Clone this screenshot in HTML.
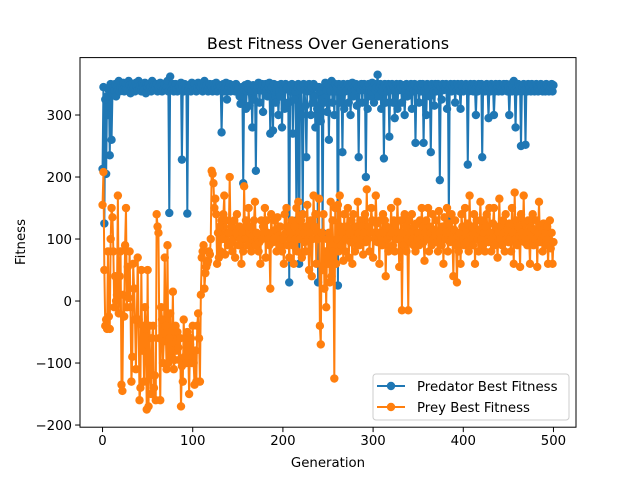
<!DOCTYPE html>
<html><head><meta charset="utf-8"><style>
body{margin:0;background:#fff}
svg{display:block;font-family:"DejaVu Sans","Liberation Sans",sans-serif}
</style></head><body>
<svg id="chart" width="640" height="480" xmlns="http://www.w3.org/2000/svg">
<rect width="640" height="480" fill="#fff"/>
<text x="328" y="49" font-size="16" text-anchor="middle">Best Fitness Over Generations</text>
<g id="plot"></g>
<g id="axes"></g>
<text x="328" y="467" font-size="13.3" text-anchor="middle">Generation</text>
<text transform="translate(25,242) rotate(-90)" font-size="13.3" text-anchor="middle">Fitness</text>
<g>
<rect x="373" y="374" width="196" height="46" rx="3" fill="#fff" fill-opacity="0.8" stroke="#ccc"/>
<g>
<line x1="377" y1="386" x2="405" y2="386" stroke="#1f77b4" stroke-width="2"/><circle cx="391" cy="386" r="4.2" fill="#1f77b4"/>
<text x="417" y="391" font-size="13.3">Predator Best Fitness</text></g>
<g>
<line x1="377" y1="407" x2="405" y2="407" stroke="#ff7f0e" stroke-width="2"/><circle cx="391" cy="407" r="4.2" fill="#ff7f0e"/>
<text x="417" y="412" font-size="13.3">Prey Best Fitness</text></g>
</g>
</svg>
<script>
const predator=[213,345,125,325,205,330,300,340,235,350,
260,335,345,340,350,330,345,340,355,338,345,350,340,352,338,345,350,342,340,355,
348,335,345,350,340,345,338,352,345,340,355,342,348,338,350,345,340,352,335,348,
345,350,340,345,338,355,342,348,340,345,350,338,345,340,352,345,338,348,342,350,
340,345,355,338,142,362,345,340,350,338,345,350,342,338,348,345,340,352,228,345,
338,350,342,345,141,340,348,345,338,352,345,340,350,342,338,345,352,340,348,345,
350,338,345,355,342,348,340,338,345,350,342,345,338,350,340,345,352,338,345,340,
348,345,272,340,350,338,345,352,325,340,345,350,338,345,340,348,342,338,350,345,
340,345,330,318,338,345,190,340,348,310,338,350,342,315,345,340,280,348,325,345,
210,340,345,352,320,345,340,350,305,338,345,350,340,330,345,352,270,340,345,275,
350,338,320,340,348,300,338,330,350,280,340,345,310,350,342,345,320,30,338,345,
350,270,340,325,338,130,345,350,60,340,345,300,140,350,340,315,232,338,345,350,
340,300,345,320,350,330,280,345,310,30,345,338,290,340,110,345,320,352,340,305,
350,260,345,338,355,320,345,300,350,338,345,25,350,320,338,345,240,350,310,338,
345,340,350,320,345,300,340,352,330,345,340,350,315,345,232,345,340,350,320,345,
350,340,200,345,310,350,340,330,338,352,345,320,350,340,345,365,330,345,350,310,
338,345,230,350,320,345,338,350,265,345,340,350,320,345,295,340,350,310,345,340,
350,345,320,340,348,300,338,350,330,345,338,345,350,310,345,338,350,255,340,345,
345,320,350,338,345,350,255,340,345,300,350,345,338,330,240,350,345,338,315,350,
338,345,350,340,195,345,325,350,340,345,345,350,310,340,135,345,350,338,345,340,
350,320,345,340,350,345,338,310,350,345,338,345,340,350,345,220,338,345,350,340,
345,338,350,340,300,345,338,350,340,345,350,232,345,340,338,345,350,340,295,345,
338,350,340,345,300,338,350,340,345,338,350,345,340,338,345,350,340,345,350,338,
345,300,340,350,338,345,355,340,280,345,338,350,340,345,250,338,345,350,340,252,
345,338,350,340,345,338,350,340,345,338,340,350,345,338,345,340,350,345,338,340,
345,338,350,340,345,338,340,345,350,338,348];
const prey=[155,208,50,-40,-30,-45,80,-25,-45,100,
150,135,80,-10,40,0,10,170,-20,40,80,-135,-145,10,-25,90,150,-10,55,5,
80,-10,-130,-90,60,20,-30,-110,-30,70,-30,-160,-140,50,-80,-40,-130,-10,-45,-175,
50,-170,-40,-110,-150,-60,-40,-140,-120,-160,140,120,110,-60,-160,-10,-30,-100,-65,70,
-40,-110,90,-100,-60,-20,-90,-80,15,-110,-95,-40,-80,-50,-75,-95,-60,-170,-105,-130,
-30,-90,-60,-100,-50,-80,-150,-70,-60,-100,-40,-100,-135,-80,-130,-40,-20,-60,-130,10,
70,80,90,20,45,55,60,65,80,75,100,210,205,190,150,165,140,60,110,70,
120,80,130,100,140,170,75,130,110,90,110,200,95,120,80,100,130,70,110,140,
105,90,120,100,60,110,80,185,100,130,100,90,150,110,120,80,100,105,130,160,
90,110,100,80,95,60,130,100,120,110,150,70,130,110,100,90,20,140,110,95,
100,130,115,80,135,105,90,120,100,80,100,60,140,110,150,90,120,70,110,100,
130,90,60,120,100,150,80,160,110,100,130,70,140,110,95,80,120,155,100,50,
110,130,40,100,170,120,140,60,110,100,165,-40,-70,110,50,140,20,80,-10,100,
60,110,30,160,40,130,80,-125,150,60,100,155,80,170,120,90,110,65,140,80,
100,120,150,70,110,95,130,60,140,100,80,120,100,160,110,90,130,100,120,75,
110,140,95,180,100,120,80,110,150,130,70,110,100,170,125,95,110,60,130,100,
90,140,110,130,40,120,100,80,115,105,150,110,90,130,80,125,100,160,110,55,
100,130,-15,110,90,140,120,80,100,-15,130,110,95,140,100,90,120,80,125,100,
110,90,130,100,150,120,95,65,110,130,100,150,80,120,110,90,140,100,115,105,
130,95,80,145,110,100,90,120,60,135,100,110,150,80,125,95,110,140,100,40,
115,130,90,30,105,80,110,60,140,120,100,90,150,110,95,125,80,170,105,100,
120,90,140,60,110,130,100,80,115,160,100,130,90,110,80,120,140,100,95,150,
110,80,100,125,150,90,120,105,70,110,165,100,120,90,130,110,80,140,100,115,
95,125,100,80,150,110,60,175,100,130,90,120,105,55,140,110,100,170,95,125,
110,90,130,100,60,120,105,140,90,115,100,130,55,110,160,95,120,100,80,125,
105,110,90,120,60,100,130,85,110,60,95];
const xTicks=[0,100,200,300,400,500];
const yTicks=[-200,-100,0,100,200,300];
const L=80,R=576,T=57.6,B=427.2,X0=-25,X1=525,Y0=-203.5,Y1=392.6;
const sx=v=>L+(v-X0)/(X1-X0)*(R-L);
const sy=v=>B-(v-Y0)/(Y1-Y0)*(B-T);
const NS="http://www.w3.org/2000/svg";
function mk(t,a,p){const e=document.createElementNS(NS,t);for(const k in a)e.setAttribute(k,a[k]);p.appendChild(e);return e;}
const plot=document.getElementById('plot'),axes=document.getElementById('axes');
function series(data,color,name){
  const g=mk('g',{},plot);
  
  
  const pl=mk('polyline',{points:data.map((v,i)=>sx(i)+','+sy(v)).join(' '),fill:'none',stroke:color,'stroke-width':2,'stroke-linejoin':'round'},g);
  
  
  data.forEach((v,i)=>{const c=mk('circle',{cx:sx(i),cy:sy(v),r:4.2,fill:color},g);
    
    });
}
series(predator,'#1f77b4','predator');
series(prey,'#ff7f0e','prey');
const fr=mk('rect',{x:L,y:T,width:R-L,height:B-T,fill:'none',stroke:'#000','stroke-width':1},axes);


xTicks.forEach(t=>{const x=sx(t);mk('line',{x1:x,y1:B,x2:x,y2:B+4.9,stroke:'#000'},axes);
  const tx=mk('text',{x:x,y:B+18,'font-size':13.3,'text-anchor':'middle'},axes);tx.textContent=t;
  
  });
yTicks.forEach(t=>{const y=sy(t);mk('line',{x1:L-4.9,y1:y,x2:L,y2:y,stroke:'#000'},axes);
  const tx=mk('text',{x:L-8,y:y+4.8,'font-size':13.3,'text-anchor':'end'},axes);tx.textContent=t<0?'\u2212'+(-t):t;
  
  });
</script>
</body></html>
